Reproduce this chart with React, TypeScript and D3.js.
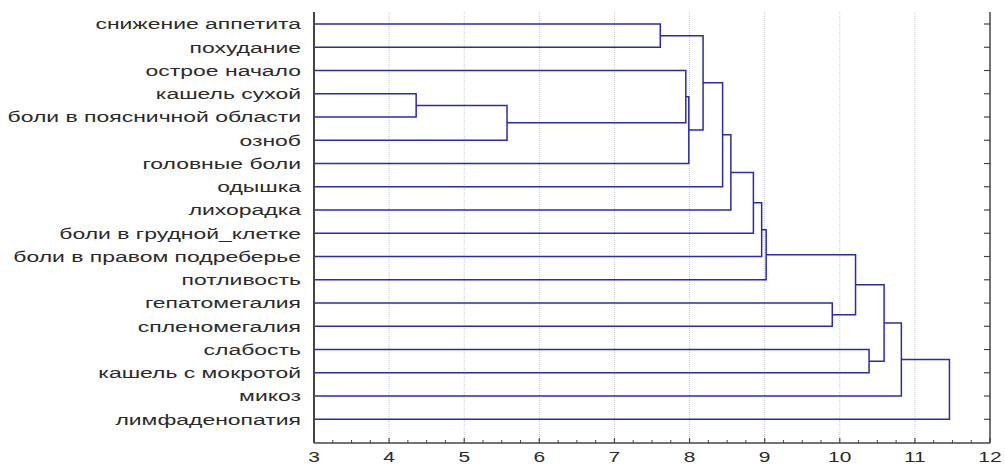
import React from 'react';
import * as d3 from 'd3';

// leaf labels, top to bottom
const labels = [
  'снижение аппетита',
  'похудание',
  'острое начало',
  'кашель сухой',
  'боли в поясничной области',
  'озноб',
  'головные боли',
  'одышка',
  'лихорадка',
  'боли в грудной_клетке',
  'боли в правом подреберье',
  'потливость',
  'гепатомегалия',
  'спленомегалия',
  'слабость',
  'кашель с мокротой',
  'микоз',
  'лимфаденопатия',
];

// merges: ids < 18 are leaves, merge i creates node 18 + i
const mergeLeft = [3, 18, 0, 2, 21, 20, 23, 24, 25, 26, 27, 12, 28, 14, 30, 32, 33];
const mergeRight = [4, 5, 1, 19, 6, 22, 7, 8, 9, 10, 11, 13, 29, 15, 31, 16, 17];
const mergeDist = [4.36, 5.57, 7.61, 7.95, 7.99, 8.18, 8.44, 8.55, 8.85, 8.96, 9.02, 9.9, 10.21, 10.39, 10.59, 10.82, 11.46];

const xTicks = [3, 4, 5, 6, 7, 8, 9, 10, 11, 12];

const W = 1005;
const H = 466;
const left = 314, right = 990, top = 12, bottom = 443;

export default function App() {
  const x = d3.scaleLinear().domain([3, 12]).range([left, right]);
  const y = d3.scalePoint<string>().domain(labels).range([24, 419.3]);

  // node positions
  const nodes: { d: number; y: number }[] = labels.map(l => ({ d: 3, y: y(l) as number }));
  const paths: string[] = [];
  mergeDist.forEach((h, i) => {
    const a = nodes[mergeLeft[i]];
    const b = nodes[mergeRight[i]];
    const p = d3.path();
    p.moveTo(x(a.d), a.y);
    p.lineTo(x(h), a.y);
    p.lineTo(x(h), b.y);
    p.lineTo(x(b.d), b.y);
    paths.push(p.toString());
    nodes.push({ d: h, y: (a.y + b.y) / 2 });
  });

  const minor = d3.range(3, 12.001, 0.25).filter(v => Math.abs(v - Math.round(v)) > 0.01);

  return (
    <svg width={W} height={H} style={{ position: 'absolute', left: 0, top: 0, background: '#fff' }}
      fontFamily="'Liberation Sans', Arial, sans-serif">
      {/* grid */}
      {xTicks.slice(1, -1).map(t => (
        <line key={'g' + t} x1={x(t)} x2={x(t)} y1={top} y2={bottom}
          stroke="#c8c8c8" strokeWidth={1} strokeDasharray="1,1" />
      ))}
      {/* dendrogram */}
      {paths.map((d, i) => (
        <path key={i} d={d} fill="none" stroke="#2b2ba6" strokeWidth={1.5} />
      ))}
      {/* axes */}
      <line x1={left} x2={left} y1={top} y2={bottom} stroke="#444" strokeWidth={2} />
      <line x1={right} x2={right} y1={top} y2={bottom} stroke="#444" strokeWidth={1.5} />
      <line x1={left} x2={right} y1={bottom} y2={bottom} stroke="#444" strokeWidth={1.5} />
      {labels.map(l => (
        <g key={'t' + l}>
          <line x1={right - 6} x2={right} y1={y(l)} y2={y(l)} stroke="#444" strokeWidth={1.2} />
        </g>
      ))}
      {xTicks.map(t => (
        <line key={'M' + t} x1={x(t)} x2={x(t)} y1={bottom} y2={bottom - 5} stroke="#444" strokeWidth={1.2} />
      ))}
      {minor.map(t => (
        <line key={'m' + t} x1={x(t)} x2={x(t)} y1={bottom} y2={bottom - 3} stroke="#444" strokeWidth={1} />
      ))}
      {/* labels */}
      {labels.map(l => (
        <text key={'l' + l} transform={`translate(301,${y(l)}) scale(1.53,1)`} textAnchor="end"
          dominantBaseline="central" fontSize={15} fill="#2a2a2a">{l}</text>
      ))}
      {xTicks.map(t => (
        <text key={'x' + t} transform={`translate(${x(t)},457) scale(1.4,1)`} textAnchor="middle"
          dominantBaseline="central" fontSize={15} fill="#2a2a2a">{t}</text>
      ))}
    </svg>
  );
}
